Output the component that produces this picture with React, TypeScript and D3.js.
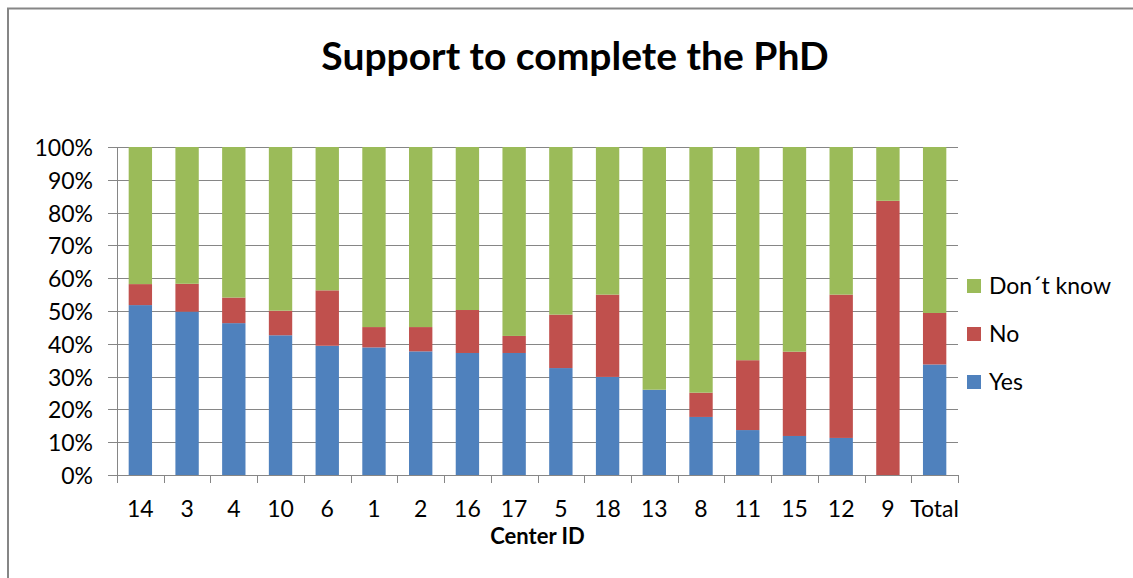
import { useEffect, useMemo } from 'react';
import * as d3 from 'd3';

// Center IDs, sorted as in the source chart
const centers = ['14', '3', '4', '10', '6', '1', '2', '16', '17', '5', '18', '13', '8', '11', '15', '12', '9', 'Total'];

// Shares (%)
const yesValues = [51.8, 49.8, 46.3, 42.6, 39.4, 38.9, 37.7, 37.2, 37.2, 32.6, 29.9, 26.0, 17.7, 13.7, 11.9, 11.3, 0, 33.7];
const noValues = [6.4, 8.5, 7.8, 7.5, 16.9, 6.2, 7.4, 13.1, 5.2, 16.3, 25.1, 0, 7.4, 21.3, 25.7, 43.7, 83.6, 15.7];
const dontKnowValues = [41.8, 41.7, 45.9, 49.9, 43.7, 54.9, 54.9, 49.7, 57.6, 51.1, 45.0, 74.0, 74.9, 65.0, 62.4, 45.0, 16.4, 50.6];

const seriesKeys = ['Yes', 'No', 'Don´t know'];
const seriesColors = ['#4F81BD', '#C0504D', '#9BBB59'];
const yTicks = [0, 10, 20, 30, 40, 50, 60, 70, 80, 90, 100];

const W = 1133;
const H = 578;
const margin = { top: 147, right: 175, bottom: 103, left: 117 };
const FONT = 'Lato, Carlito, Calibri, sans-serif';
const GRID = '#868686';
const LABEL_SIZE = 23;

export default function App() {
  const innerW = W - margin.left - margin.right;
  const innerH = H - margin.top - margin.bottom;

  // page has an 8px body margin by default; drop it so the svg sits at 0,0
  useEffect(() => {
    document.body.style.margin = '0';
    document.body.style.overflow = 'hidden';
  }, []);

  const rows = useMemo(
    () => centers.map((c, i) => ({ center: c, Yes: yesValues[i], No: noValues[i], 'Don´t know': dontKnowValues[i] })),
    []
  );

  const stacked = useMemo(() => d3.stack<any>().keys(seriesKeys)(rows), [rows]);

  const x = d3.scaleBand<string>().domain(centers).range([0, innerW]).paddingInner(0.5).paddingOuter(0.25);
  const y = d3.scaleLinear().domain([0, 100]).range([innerH, 0]);
  const step = x.step();
  const boundaries = d3.range(centers.length + 1).map(i => i * step);

  const legendItems = [...seriesKeys].reverse();

  return (
    <svg width={W} height={H} style={{ display: 'block', background: '#fff' }}>
      {/* chart frame: only top and left edges fall inside the picture */}
      <path d={'M8,' + H + 'V8.5H' + W} fill="none" stroke={GRID} strokeWidth={2} />

      <text x={575} y={70} textAnchor="middle" fontFamily={FONT} fontWeight="bold" fontSize={39} fill="#000">
        Support to complete the PhD
      </text>

      <g transform={'translate(' + margin.left + ',' + margin.top + ')'}>
        {/* gridlines + y ticks */}
        {yTicks.map(t => (
          <g key={t} transform={'translate(0,' + Math.round(y(t)) + ')'}>
            <line x1={-9} x2={innerW} y1={0.5} y2={0.5} stroke={GRID} strokeWidth={1} />
            <text x={-24} y={0.5} dy="0.35em" textAnchor="end" fontFamily={FONT} fontSize={LABEL_SIZE} fill="#000">
              {t + '%'}
            </text>
          </g>
        ))}

        {/* bars */}
        {stacked.map((layer, si) => (
          <g key={layer.key} fill={seriesColors[si]}>
            {layer.map((d, i) => (
              <rect
                key={centers[i]}
                x={x(centers[i])}
                y={y(d[1])}
                width={x.bandwidth()}
                height={Math.max(0, y(d[0]) - y(d[1]))}
              />
            ))}
          </g>
        ))}

        {/* axes */}
        <line x1={0.5} x2={0.5} y1={0} y2={innerH} stroke={GRID} strokeWidth={1} />
        <line x1={0} x2={innerW} y1={innerH + 0.5} y2={innerH + 0.5} stroke={GRID} strokeWidth={1} />
        {boundaries.map((b, i) => (
          <line key={i} x1={Math.round(b) + 0.5} x2={Math.round(b) + 0.5} y1={innerH} y2={innerH + 8} stroke={GRID} strokeWidth={1} />
        ))}

        {centers.map(c => (
          <text
            key={c}
            x={(x(c) || 0) + x.bandwidth() / 2}
            y={innerH + 42}
            textAnchor="middle"
            fontFamily={FONT}
            fontSize={LABEL_SIZE}
            fill="#000"
          >
            {c}
          </text>
        ))}

        <text x={innerW / 2} y={innerH + 69} textAnchor="middle" fontFamily={FONT} fontWeight="bold" fontSize={22} fill="#000">
          Center ID
        </text>
      </g>

      {/* legend */}
      {legendItems.map((k, i) => (
        <g key={k} transform={'translate(967,' + (279 + i * 48) + ')'}>
          <rect width={14} height={14} fill={seriesColors[seriesKeys.indexOf(k)]} />
          <text x={22} y={7} dy="0.35em" fontFamily={FONT} fontSize={LABEL_SIZE} fill="#000">
            {k}
          </text>
        </g>
      ))}
    </svg>
  );
}
